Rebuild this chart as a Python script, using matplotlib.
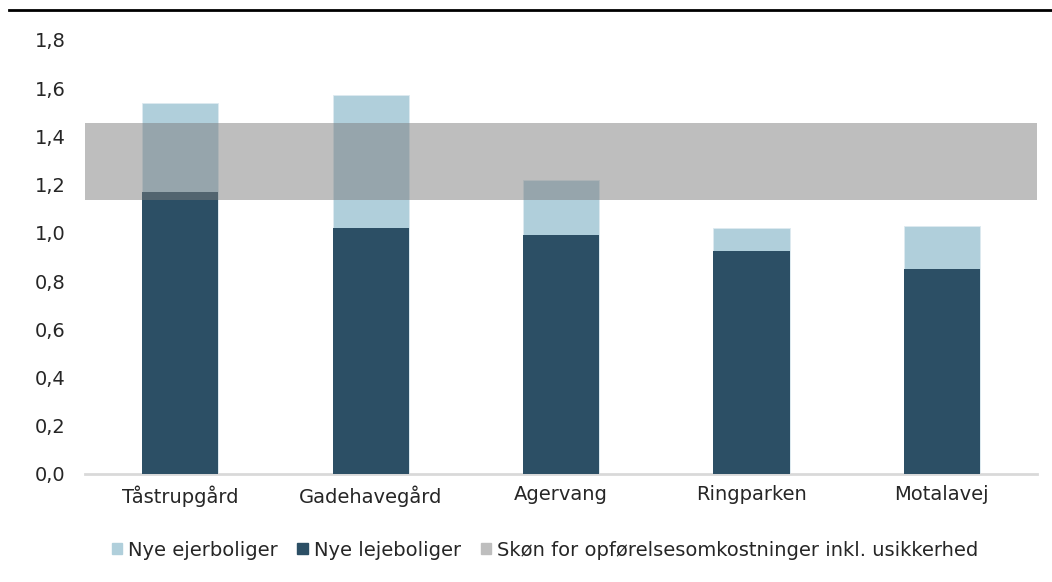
import matplotlib.pyplot as plt
from matplotlib.patches import Patch
from matplotlib.lines import Line2D

categories = ['Tåstrupgård', 'Gadehavegård', 'Agervang', 'Ringparken', 'Motalavej']
ejerboliger = [1.54, 1.57, 1.22, 1.02, 1.03]
lejeboliger = [1.17, 1.02, 0.99, 0.925, 0.85]
band_low = 1.135
band_high = 1.455
yticks = [0.0, 0.2, 0.4, 0.6, 0.8, 1.0, 1.2, 1.4, 1.6, 1.8]

light = '#B0CFDB'
dark = '#2C4F65'
band_color = '#7B7B7B'
band_legend = '#BEBEBE'
text_color = '#262626'

plt.rcParams['font.family'] = ['DejaVu Sans']
plt.rcParams['font.size'] = 14

fig = plt.figure(figsize=(10.52, 5.82), dpi=100)
ax = fig.add_axes([0.0808, 0.1856, 0.905, 0.7457])

x = range(len(categories))
ax.bar(x, ejerboliger, width=0.4, color=light, edgecolor='#DDEAF0', linewidth=0.6, zorder=2)
ax.bar(x, lejeboliger, width=0.4, color=dark, zorder=3)
ax.axhspan(band_low, band_high, color=band_color, alpha=0.49, lw=0, zorder=4)

ax.set_xlim(-0.5, len(categories) - 0.5)
ax.set_ylim(0, 1.8)
ax.set_yticks(yticks)
ax.set_yticklabels([f'{v:.1f}'.replace('.', ',') for v in yticks], color=text_color)
ax.set_xticks(list(x))
ax.set_xticklabels(categories, color=text_color)
ax.tick_params(axis='x', length=0, pad=8)
ax.tick_params(axis='y', length=0, pad=14)

for side in ['top', 'right', 'left']:
    ax.spines[side].set_visible(False)
ax.spines['bottom'].set_color('#D9D9D9')
ax.spines['bottom'].set_linewidth(2)

# black rule across the top of the figure
fig.add_artist(Line2D([9 / 1052, 1], [1 - 10 / 582, 1 - 10 / 582], color='black', lw=2))

handles = [Patch(color=light), Patch(color=dark), Patch(color=band_legend)]
labels = ['Nye ejerboliger', 'Nye lejeboliger', 'Skøn for opførelsesomkostninger inkl. usikkerhed']
fig.legend(handles, labels, loc='center', bbox_to_anchor=(545 / 1052, 1 - 550 / 582), ncol=3,
           frameon=False, handlelength=0.55, handleheight=0.55, handletextpad=0.3,
           columnspacing=1.0, labelcolor=text_color)

fig.savefig('out.png', dpi=100)
